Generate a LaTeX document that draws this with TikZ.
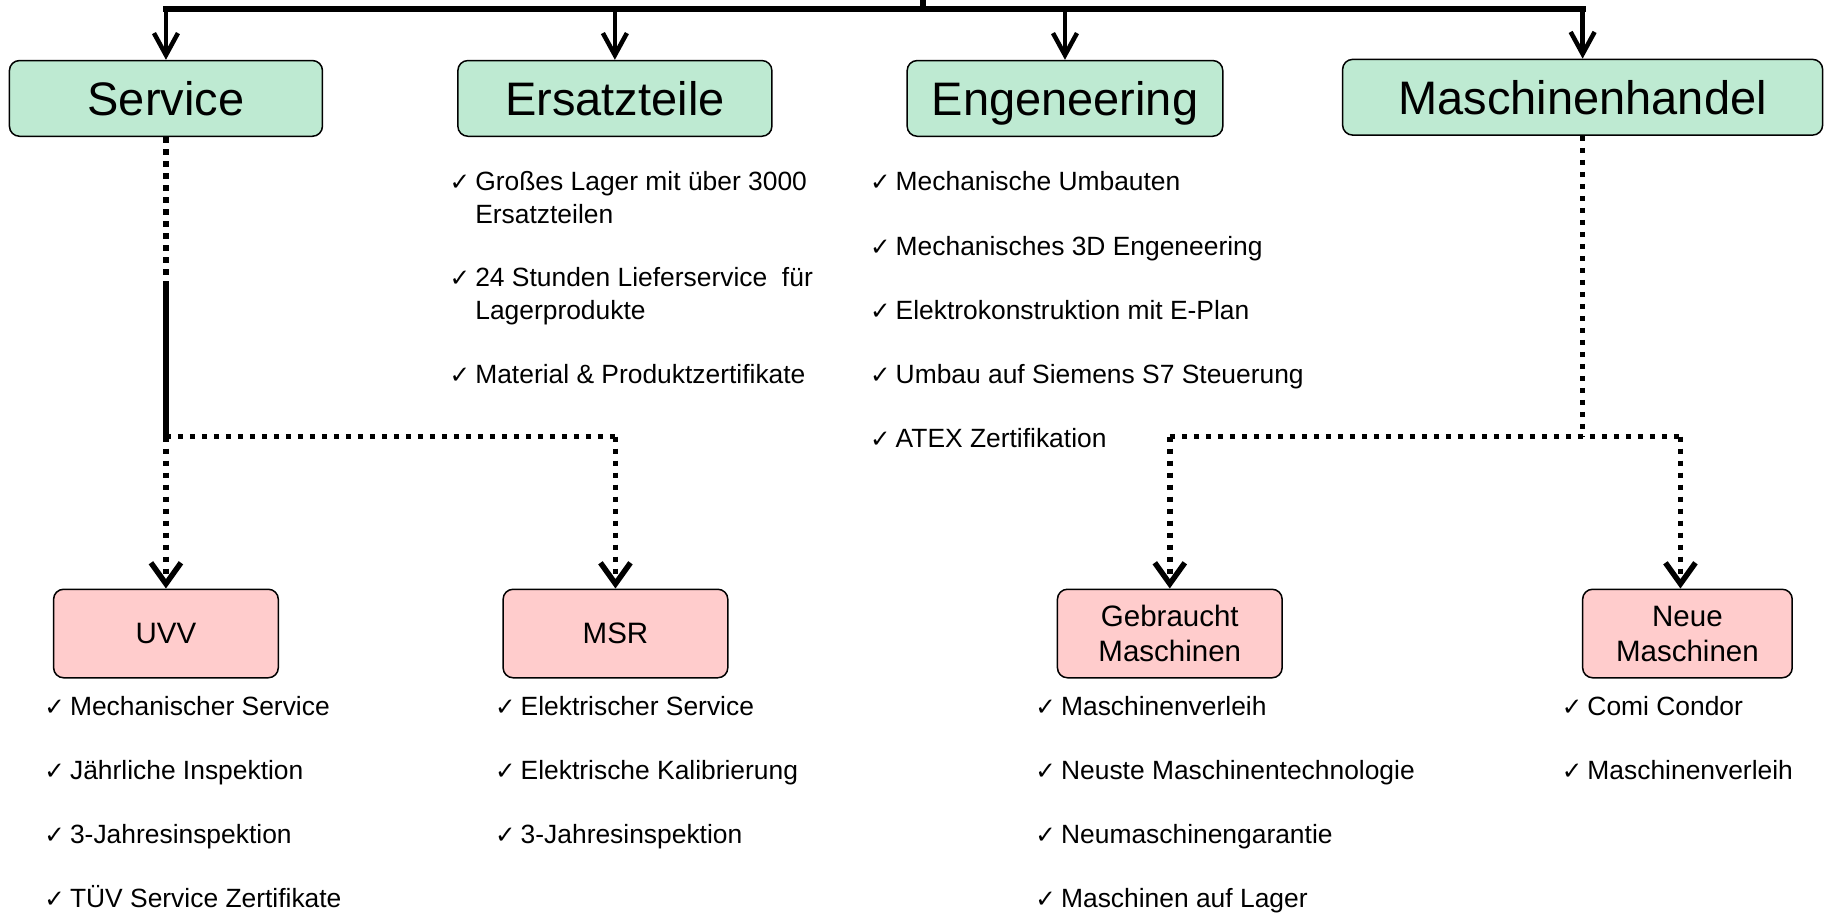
\documentclass[tikz,border=0pt]{standalone}
\usepackage{fontspec}
\setmainfont{Liberation Sans}
\newfontfamily\dvs{DejaVu Sans}
\usetikzlibrary{arrows.meta}
\definecolor{boxgreen}{RGB}{190,234,210}
\definecolor{boxpink}{RGB}{255,204,204}
\newcommand{\chk}{\makebox[25.6pt][l]{\dvs\fontsize{24.5}{24.5}\selectfont ✓}}
\begin{document}
\begin{tikzpicture}[x=1.1645pt,y=-1.1645pt,
  head/.style={draw=black, line width=1.5pt, rounded corners=10pt, fill=boxgreen,
    inner sep=0pt, minimum height=75.7pt, font=\fontsize{47}{50}\selectfont,
    text height=33.7pt, text depth=0pt},
  sub/.style={draw=black, line width=1.5pt, rounded corners=10pt, fill=boxpink,
    inner sep=0pt, minimum height=88.5pt, minimum width=224.7pt, align=center,
    font=\fontsize{29.5}{35}\selectfont},
  item/.style={anchor=base west, inner sep=0pt, font=\fontsize{26.4}{32.6}\selectfont},
  barline/.style={line width=6pt, line cap=rect},
  stem/.style={line width=4.5pt, -{Straight Barb[length=22pt,width=24pt]}},
  dotline/.style={line width=5.5pt, dash pattern=on 5.5pt off 6.5pt},
  dotarrow/.style={dotline, -{Straight Barb[length=21pt,width=30pt]}},
  solidline/.style={line width=5.5pt}
]
\useasboundingbox (0,0) rectangle (1568,787);

% top level boxes
\node[head, minimum width=313pt]   (svc) at (142.5,84.5) {Service};
\node[head, minimum width=314pt]   (ers) at (528,84.5) {Ersatzteile};
\node[head, minimum width=315.6pt] (eng) at (914.5,84.5) {Engeneering};
\node[head, minimum width=480pt]   (mh)  at (1359,83.5) {Maschinenhandel};

% sub boxes
\node[sub] (uvv) at (142.5,544) {UVV};
\node[sub] (msr) at (528.5,544) {MSR};
\node[sub] (gbm) at (1004.5,544) {Gebraucht\\Maschinen};
\node[sub, minimum width=209.6pt] (nm) at (1449,544) {Neue\\Maschinen};

% top bar
\coordinate (root) at (792.5,0);
\coordinate (rb) at (792.5,8);
\draw[barline] (root) -- (rb);
\draw[barline] (svc.north |- rb) -- (mh.north |- rb);
\draw[stem] (svc.north |- rb) -- (svc.north);
\draw[stem] (ers.north |- rb) -- (ers.north);
\draw[stem] (eng.north |- rb) -- (eng.north);
\draw[stem] (mh.north |- rb) -- (mh.north);

% Service branch
\coordinate (sj) at (142.5,243);
\coordinate (sk) at (142.5,375);
\coordinate (sm) at (528.5,375);
\draw[dotline] (svc.south) -- (sj);
\draw[solidline] (sj) -- (sk);
\draw[dotline] (sk) -- (sm);
\draw[dotarrow] (sk) -- (uvv.north);
\draw[dotarrow] (sm) -- (msr.north);

% Maschinenhandel branch
\coordinate (mj) at (1359,375);
\coordinate (ml) at (1004.5,375);
\coordinate (mr) at (1443,375);
\draw[dotline] (mh.south) -- (mj);
\draw[dotline] (ml) -- (mr);
\draw[dotarrow] (ml) -- (gbm.north);
\draw[dotarrow] (mr) -- (mr |- nm.north);

% Ersatzteile list
\node[item] (e1) at (386,164) {\chk Großes Lager mit über 3000};
\node[item] (e1b) at (408,192) {Ersatzteilen};
\node[item] (e2) at (386,246) {\chk 24 Stunden Lieferservice~ für};
\node[item] (e2b) at (408,274) {Lagerprodukte};
\node[item] (e3) at (386,329) {\chk Material \& Produktzertifikate};

% Engeneering list
\node[item] (g1) at (747,164) {\chk Mechanische Umbauten};
\node[item] (g2) at (747,219) {\chk Mechanisches 3D Engeneering};
\node[item] (g3) at (747,274) {\chk Elektrokonstruktion mit E-Plan};
\node[item] (g4) at (747,329) {\chk Umbau auf Siemens S7 Steuerung};
\node[item] (g5) at (747,384) {\chk ATEX Zertifikation};

% UVV list
\node[item] (u1) at (38,614) {\chk Mechanischer Service};
\node[item] (u2) at (38,669) {\chk Jährliche Inspektion};
\node[item] (u3) at (38,724) {\chk 3-Jahresinspektion};
\node[item] (u4) at (38,779) {\chk TÜV Service Zertifikate};

% MSR list
\node[item] (m1) at (425,614) {\chk Elektrischer Service};
\node[item] (m2) at (425,669) {\chk Elektrische Kalibrierung};
\node[item] (m3) at (425,724) {\chk 3-Jahresinspektion};

% Gebraucht list
\node[item] (b1) at (889,614) {\chk Maschinenverleih};
\node[item] (b2) at (889,669) {\chk Neuste Maschinentechnologie};
\node[item] (b3) at (889,724) {\chk Neumaschinengarantie};
\node[item] (b4) at (889,779) {\chk Maschinen auf Lager};

% Neue list
\node[item] (n1) at (1341,614) {\chk Comi Condor};
\node[item] (n2) at (1341,669) {\chk Maschinenverleih};
\end{tikzpicture}
\end{document}
